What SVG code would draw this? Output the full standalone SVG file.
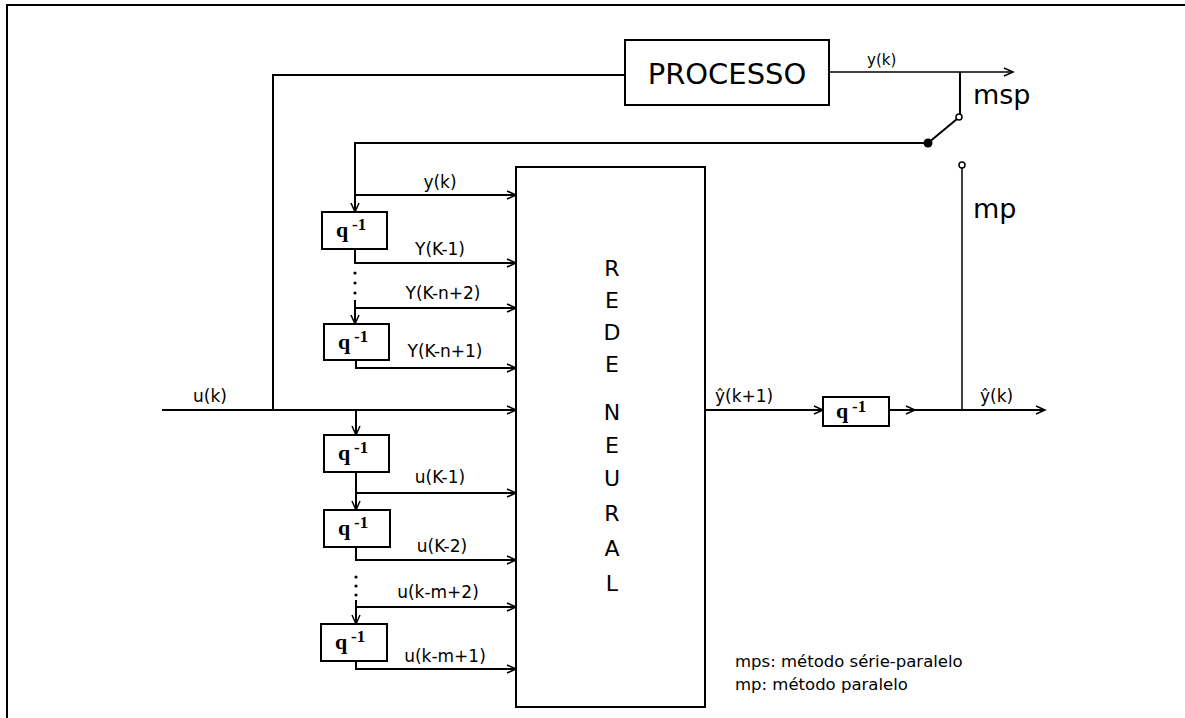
<svg xmlns="http://www.w3.org/2000/svg" width="1185" height="718" viewBox="0 0 1185 718">
<style>
.ln{fill:none;stroke:#000;stroke-width:2}
.thin{fill:none;stroke:#000;stroke-width:1.5}
.box{fill:#fff;stroke:#000;stroke-width:2}
.lbl{font-family:"DejaVu Sans",sans-serif;font-size:17px;fill:#000}
.big{font-family:"DejaVu Sans",sans-serif;font-size:27px;fill:#000}
.q{font-family:"Liberation Serif",serif;font-weight:bold;font-size:22px;fill:#000}
.sup{font-family:"Liberation Serif",serif;font-weight:bold;font-size:17px;fill:#000}
.rede{font-family:"DejaVu Sans",sans-serif;font-size:22px;fill:#000;text-anchor:middle}
.note{font-family:"DejaVu Sans",sans-serif;font-size:16.5px;fill:#000}
</style>
<defs>
<marker id="arr" markerWidth="12" markerHeight="10" refX="10" refY="5" orient="auto" markerUnits="userSpaceOnUse">
<path d="M1,1 L10,5 L1,9" fill="none" stroke="#000" stroke-width="1.5"/>
</marker>
</defs>
<rect width="1185" height="718" fill="#fff"/>
<path class="ln" d="M7,718 V5 H1185"/>

<g id="connectors">
<path class="ln" d="M162,410 H516" marker-end="url(#arr)"/>
<path class="ln" d="M273,410 V75 H625"/>
<path class="thin" d="M829,72 H1013" marker-end="url(#arr)"/>
<path class="ln" d="M960,72 V114"/>
<path class="ln" d="M928,143 L957,119"/>
<path class="thin" d="M962,168 V410"/>
<path class="ln" d="M928,143 H355 V212" marker-end="url(#arr)"/>
<path class="ln" d="M355,195 H516" marker-end="url(#arr)"/>
<path class="ln" d="M355,249 V263 H516" marker-end="url(#arr)"/>
<circle cx="355" cy="273" r="1.6"/>
<circle cx="355" cy="283" r="1.6"/>
<circle cx="355" cy="293" r="1.6"/>
<path class="ln" d="M355,300 V324" marker-end="url(#arr)"/>
<path class="ln" d="M355,308 H516" marker-end="url(#arr)"/>
<path class="ln" d="M356,360 V368 H516" marker-end="url(#arr)"/>
<path class="ln" d="M356,410 V435" marker-end="url(#arr)"/>
<path class="ln" d="M356,472 V510" marker-end="url(#arr)"/>
<path class="ln" d="M356,493 H516" marker-end="url(#arr)"/>
<path class="ln" d="M356,547 V560 H516" marker-end="url(#arr)"/>
<circle cx="356" cy="577" r="1.6"/>
<circle cx="356" cy="586" r="1.6"/>
<circle cx="356" cy="595" r="1.6"/>
<path class="ln" d="M356,600 V624" marker-end="url(#arr)"/>
<path class="ln" d="M356,607 H516" marker-end="url(#arr)"/>
<path class="ln" d="M356,661 V669 H516" marker-end="url(#arr)"/>
<path class="ln" d="M705,410 H823" marker-end="url(#arr)"/>
<path class="ln" d="M889,410 H915" marker-end="url(#arr)"/>
<path class="ln" d="M915,410 H1045" marker-end="url(#arr)"/>
</g>

<g id="switch">
<circle cx="928" cy="143" r="4.5" fill="#000"/>
<circle cx="959" cy="117" r="3" fill="#fff" stroke="#000" stroke-width="1.5"/>
<circle cx="962" cy="165" r="3" fill="#fff" stroke="#000" stroke-width="1.5"/>
<text class="big" x="973" y="104">msp</text>
<text class="big" x="973" y="218">mp</text>
</g>

<g id="processo">
<rect class="box" x="625" y="40" width="204" height="65"/>
<text x="727" y="84" text-anchor="middle" style="font-family:'DejaVu Sans',sans-serif;font-size:29px">PROCESSO</text>
</g>

<g id="rede-neural">
<rect class="box" x="516" y="167" width="189" height="540"/>
<text class="rede" x="612" y="276">R</text>
<text class="rede" x="612" y="308">E</text>
<text class="rede" x="612" y="340">D</text>
<text class="rede" x="612" y="372">E</text>
<text class="rede" x="612" y="420">N</text>
<text class="rede" x="612" y="453">E</text>
<text class="rede" x="612" y="486">U</text>
<text class="rede" x="612" y="521">R</text>
<text class="rede" x="612" y="556">A</text>
<text class="rede" x="612" y="591">L</text>
</g>

<g id="q1"><rect class="box" x="322" y="212" width="65" height="37"/><text class="q" x="336" y="237">q</text><text class="sup" x="352" y="230">-1</text></g>
<g id="q2"><rect class="box" x="324" y="324" width="65" height="36"/><text class="q" x="338" y="349">q</text><text class="sup" x="354" y="342">-1</text></g>
<g id="q3"><rect class="box" x="324" y="435" width="65" height="37"/><text class="q" x="338" y="460">q</text><text class="sup" x="354" y="453">-1</text></g>
<g id="q4"><rect class="box" x="324" y="510" width="66" height="37"/><text class="q" x="338" y="535">q</text><text class="sup" x="354" y="528">-1</text></g>
<g id="q5"><rect class="box" x="321" y="624" width="66" height="37"/><text class="q" x="335" y="649">q</text><text class="sup" x="351" y="642">-1</text></g>
<g id="qout"><rect class="box" x="823" y="397" width="66" height="29"/><text class="q" x="836" y="418">q</text><text class="sup" x="852" y="412">-1</text></g>

<g id="labels">
<text class="lbl" x="440" y="188" text-anchor="middle">y(k)</text>
<text class="lbl" x="440" y="255" text-anchor="middle">Y(K-1)</text>
<text class="lbl" x="443" y="299" text-anchor="middle">Y(K-n+2)</text>
<text class="lbl" x="445" y="357" text-anchor="middle">Y(K-n+1)</text>
<text class="lbl" x="193" y="402">u(k)</text>
<text class="lbl" x="440" y="483" text-anchor="middle">u(K-1)</text>
<text class="lbl" x="442" y="552" text-anchor="middle">u(K-2)</text>
<text class="lbl" x="438" y="598" text-anchor="middle">u(k-m+2)</text>
<text class="lbl" x="445" y="662" text-anchor="middle">u(k-m+1)</text>
<text class="lbl" x="715" y="402">ŷ(k+1)</text>
<text class="lbl" x="980" y="402">ŷ(k)</text>
<text class="lbl" x="867" y="65" style="font-size:15px">y(k)</text>
</g>

<g id="legend">
<text class="note" x="735" y="667">mps: método série-paralelo</text>
<text class="note" x="735" y="690">mp: método paralelo</text>
</g>
</svg>
